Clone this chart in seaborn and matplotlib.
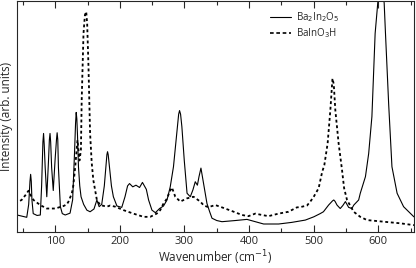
import pandas as pd
import seaborn as sns
import matplotlib.pyplot as plt
from matplotlib.ticker import MultipleLocator

# Ba2In2O5 spectrum (wavenumber, intensity in arb. units, 100 = top of frame)
ba2_x = [41, 50, 56, 59, 61, 62, 63, 64, 66, 72, 77, 79, 81, 82, 83, 84.5, 87, 89.5, 91, 92, 93,
         94.5, 97, 100, 102, 103, 104, 105, 108, 111, 115.5, 123, 127, 130, 131.5, 132.5, 133.5,
         134.5, 136, 138, 140, 144, 149, 154, 160, 164.5, 168, 172, 176, 179, 180, 181, 182, 184,
         187, 190, 195.5, 203, 208, 212, 215, 220, 225, 230.5, 235, 241, 244.5, 249.7, 255, 261.5,
         267.6, 273, 278, 283, 288, 291, 292.4, 294, 296, 299.7, 304, 309, 313, 316.7, 320, 322.5,
         325.5, 329.6, 334.8, 339, 342.6, 350, 358, 378.6, 396.7, 409.6, 422.5, 445.7, 466, 487,
         500, 510, 515, 523, 529, 531, 533, 536, 541, 545, 549, 554, 559, 562, 569.5, 572, 580, 585,
         590, 595, 599, 604, 609, 611, 616, 621, 629, 639, 655]
ba2_y = [7.4, 6.8, 6.4, 12, 22, 25, 22, 14, 8, 7.2, 7.4, 20, 39, 42.7, 38, 28, 15.3, 30, 40, 42.7,
         39, 28, 18, 32, 40, 43, 40, 28, 11, 8, 7.4, 8.2, 14, 35, 47, 51.8, 49,
         42, 28.3, 20, 15.3, 12, 9.5, 8.8, 10, 13.9, 11, 12, 20, 30, 33.5, 34.8, 33.5, 28,
         20, 15.3, 11.3, 10.7, 15.3, 20, 21, 19.6, 20.3, 19.3, 21.5, 18.5, 13.9, 9.5, 8.4, 10.2,
         11.3, 13.9, 19.6, 28.3, 42.7, 51, 52.6, 51, 45.6, 31, 16.8, 15.3, 18.2, 21.8, 20.3, 24,
         27.7, 21, 12.4, 8.8, 6, 5, 4.5, 5, 5.5, 4.5, 3.5, 3.5, 4.2, 5.2,
         6.6, 8, 8.8, 11.7, 13.5, 13.9, 13.3, 11.7, 10.2, 11.5, 13.2, 10.7, 10.2, 11.7, 13.9, 16.8, 24, 34,
         50, 86, 99, 115, 99, 86, 55, 28.3, 16.8, 11, 6.6]

# BaInO3H spectrum
bih_x = [38, 48, 54, 58.7, 62, 66.4, 76.8, 87, 100, 113, 118, 120.6, 125.8, 128, 131, 134.5,
         137.6, 139.8, 141, 143.8, 146, 148, 149.5, 151.5, 154, 156.5, 159, 164.5, 169.6, 180,
         185, 193, 205.7, 221, 236.7, 247, 257, 262.5, 267.6, 273, 277, 280.6, 285.8, 293.5,
         303.9, 314, 324.5, 330, 337, 347.7, 358, 373.5, 389, 399, 409.6, 420, 430, 445.7, 461,
         474, 479, 489.6, 494.7, 500, 507.6, 513, 516.4, 521.5, 525.7, 529, 531, 533.4, 538.5,
         543.8, 547, 551.5, 561.8, 572, 582.5, 608, 634, 655]
bih_y = [12.4, 13.9, 16, 17.9, 16, 13.9, 11.7, 10.2, 10.2, 11.3, 12, 13.2, 16.8, 20, 28.3, 39.8,
         31, 35.5, 57, 86, 94, 95.4, 90, 71.6, 42.7, 30, 22.5, 13.9, 11.7, 11,
         11.5, 11, 9.5, 8, 6.6, 6.6, 8, 9.5, 12.4, 14.5, 17.5, 19.3, 15.3, 13.2,
         14.6, 15.3, 13.2, 11.5, 10.8, 11.7, 10.7, 9.1, 7.4, 6.9, 8, 7.4, 6.9, 8, 8.8,
         10.7, 10.8, 11.5, 13.2, 15.3, 19, 26, 29, 38.4, 52.8, 66.5, 64, 52.8, 38.4,
         26.8, 19, 13.9, 8.8, 6.6, 5.2, 4.5, 3.8, 3]

sns.set_style('ticks')
plt.rcParams['font.family'] = ['Open Sans', 'DejaVu Sans']

fig = plt.figure(figsize=(4.16, 2.68), dpi=100)
ax = fig.add_axes([0.041, 0.134, 0.954, 0.862])

df1 = pd.DataFrame({'x': ba2_x, 'y': ba2_y})
df2 = pd.DataFrame({'x': bih_x, 'y': bih_y})
sns.lineplot(data=df1, x='x', y='y', ax=ax, color='black', lw=0.8, sort=False,
             estimator=None, label='Ba$_2$In$_2$O$_5$')
sns.lineplot(data=df2, x='x', y='y', ax=ax, color='black', lw=1.3, sort=False,
             estimator=None, label='BaInO$_3$H')
ax.lines[1].set_dashes([1.6, 1.5])

ax.set_xlim(41, 655)
ax.set_ylim(0, 100)
ax.set_yticks([])
ax.xaxis.set_major_locator(MultipleLocator(100))
ax.xaxis.set_minor_locator(MultipleLocator(50))
ax.tick_params(axis='x', which='both', direction='in', top=True, labelsize=8, pad=3, width=0.8)
ax.tick_params(axis='x', which='major', length=5)
ax.tick_params(axis='x', which='minor', length=3)
for s in ax.spines.values():
    s.set_linewidth(0.8)

ax.set_xlabel('Wavenumber (cm$^{-1}$)', fontsize=8.5, labelpad=1)
ax.set_ylabel('Intensity (arb. units)', fontsize=8.5, labelpad=3)

leg = ax.legend(loc='upper right', bbox_to_anchor=(0.83, 0.99), frameon=False, fontsize=7,
                handlelength=2.2, labelspacing=0.2, borderpad=0.2, handletextpad=0.5)
leg.get_lines()[1].set_linewidth(1.2)
leg.get_lines()[1].set_dashes([2.2, 1.6])

fig.savefig('out.png', dpi=100)
